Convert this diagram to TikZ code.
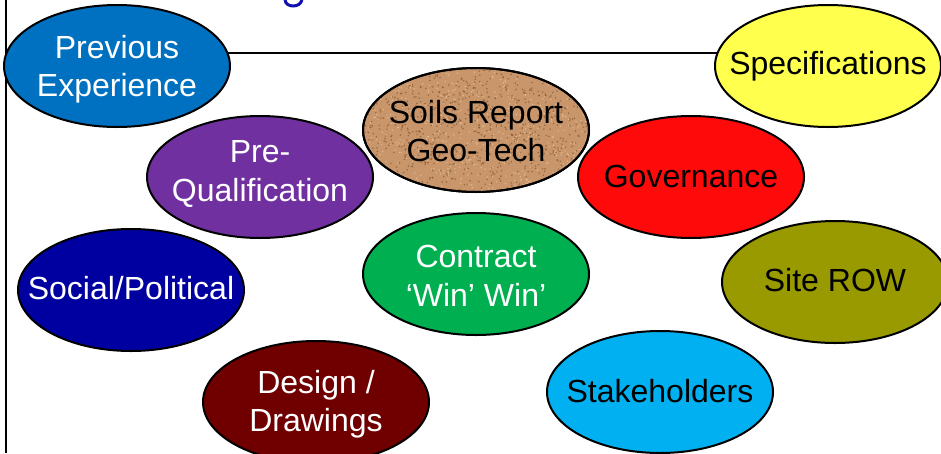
\documentclass[tikz,border=0pt]{standalone}
\usepackage{fontspec}
\setmainfont{Liberation Sans}
\usetikzlibrary{backgrounds}
\definecolor{cprev}{HTML}{0070C0}
\definecolor{cpre}{HTML}{7030A0}
\definecolor{cspec}{HTML}{FFFF4D}
\definecolor{cgov}{HTML}{FF0A0A}
\definecolor{csoc}{HTML}{0000A0}
\definecolor{ccon}{HTML}{00B050}
\definecolor{csite}{HTML}{999900}
\definecolor{cdes}{HTML}{700000}
\definecolor{cstake}{HTML}{00B0F0}
\definecolor{corkbase}{HTML}{C8966A}
\definecolor{corkdark}{HTML}{7E4E2A}
\definecolor{corklight}{HTML}{E6C29A}
\definecolor{ctitle}{HTML}{1010B0}
% #7 = vertical text offset (pt, positive = down)
\newcommand{\mybubble}[7]{%
  \draw[fill=#4, line width=2pt] (#2,#3) ellipse [x radius=113pt, y radius=61pt];
  \node[txt, text=#5] (#1) at (#2,#3+#7) {#6};}
\begin{document}
\begin{tikzpicture}[x=1pt,y=-1pt,
  txt/.style={inner sep=0pt, align=center,
    font=\fontsize{32}{38.5}\selectfont}]
\useasboundingbox (0,0) rectangle (941,453);
% title fragment (descender of a cut-off letter)
\draw[ctitle, line width=3pt] (285,0) .. controls (286,8) and (300,8) .. (302,0);
% ellipses
\mybubble{prev}{117}{66}{cprev}{white}{Previous\\Experience}{3}
\mybubble{spec}{828}{66}{cspec}{black}{Specifications}{0}
% cork fill for soils report
\draw[fill=corkbase, line width=2pt] (476,130) ellipse [x radius=113pt, y radius=62pt];
\begin{scope}
  \clip (476,130) ellipse [x radius=112pt, y radius=61pt];
  \pgfmathsetseed{11}
  \foreach \i in {1,...,900}{
    \pgfmathsetmacro\px{363+226*rnd}
    \pgfmathsetmacro\py{68+124*rnd}
    \fill[corkdark, opacity=0.6] (\px,\py) circle (0.9pt);
  }
  \foreach \i in {1,...,600}{
    \pgfmathsetmacro\px{363+226*rnd}
    \pgfmathsetmacro\py{68+124*rnd}
    \fill[corklight, opacity=0.8] (\px,\py) circle (0.8pt);
  }
\end{scope}
\draw[line width=2pt] (476,130) ellipse [x radius=113pt, y radius=62pt];
\node[txt, text=black] (soil) at (476,131) {Soils Report\\Geo-Tech};
\mybubble{preq}{260}{177}{cpre}{white}{Pre-\\Qualification}{-3}
\mybubble{gov}{691}{177}{cgov}{black}{Governance}{-1}
\mybubble{soc}{131}{290}{csoc}{white}{Social/Political}{-2}
\mybubble{con}{476}{274}{ccon}{white}{Contract\\‘Win’ Win’}{2}
\mybubble{site}{835}{282}{csite}{black}{Site ROW}{-2}
\mybubble{des}{316}{402}{cdes}{white}{Design /\\Drawings}{2}
\mybubble{stake}{660}{392}{cstake}{black}{Stakeholders}{-1}
\begin{scope}[on background layer]
  \coordinate (bt) at (5.5,0);
  \coordinate (bb) at (5.5,453);
  \draw[line width=2pt] (bt) -- (bb);
  \draw[line width=2pt] ([yshift=16pt]prev.center) -- ([yshift=13pt]spec.center);
\end{scope}
\end{tikzpicture}
\end{document}
